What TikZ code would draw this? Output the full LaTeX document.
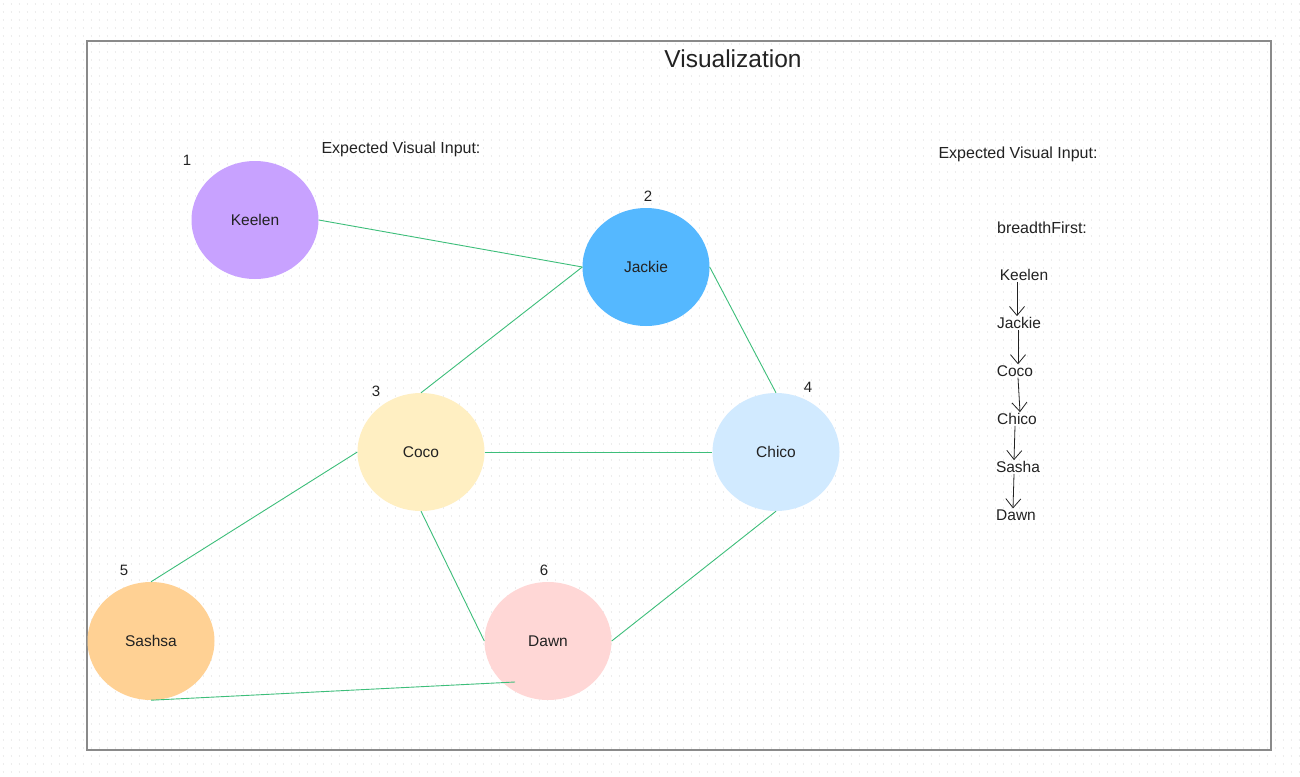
\documentclass[tikz,border=0pt]{standalone}
\usepackage{fontspec}
\setmainfont{Liberation Sans}
\usepackage{tikz}
\usetikzlibrary{arrows.meta,positioning,calc,shapes.geometric}

\definecolor{keelencol}{HTML}{C8A2FF}
\definecolor{jackiecol}{HTML}{55B8FF}
\definecolor{cococol}{HTML}{FFEFC2}
\definecolor{chicocol}{HTML}{D1EAFF}
\definecolor{sashsacol}{HTML}{FFD194}
\definecolor{dawncol}{HTML}{FFD7D6}
\definecolor{linkcol}{HTML}{3DBE7A}
\definecolor{framecol}{HTML}{8A8A8A}
\definecolor{dotcol}{HTML}{EDEDED}
\definecolor{inkcol}{HTML}{222222}

\begin{document}
\begin{tikzpicture}[x=1pt,y=-1pt,
    person/.style={ellipse,minimum width=127pt,minimum height=118pt,inner sep=0pt,
      text=inkcol,font=\fontsize{15.5}{18}\selectfont},
    link/.style={linkcol,line width=0.9pt},
    num/.style={text=inkcol,font=\fontsize{15}{18}\selectfont},
    lbl/.style={text=inkcol,font=\fontsize{16}{19}\selectfont},
    seq/.style={text=inkcol,font=\fontsize{15.5}{18}\selectfont,inner sep=1pt},
    stepline/.style={inkcol,line width=0.8pt,-{Straight Barb[length=9pt,width=15pt,line width=0.8pt]}}]
  \useasboundingbox (0,0) rectangle (1300,776);
  \fill[white] (0,0) rectangle (1300,776);
  % dotted canvas
  \foreach \y in {4,12,...,772} {
    \draw[dotcol,line width=1.3pt,dash pattern=on 1.3pt off 6.7pt] (2.7,\y) -- (1300,\y);
  }
  \draw[framecol,line width=1.3pt] (87,41) rectangle (1271,750);
  \node[text=inkcol,font=\fontsize{24.5}{28}\selectfont] (title) at (733,59) {Visualization};

  % graph
  \node[person,fill=keelencol] (keelen) at (255,220) {Keelen};
  \node[person,fill=jackiecol] (jackie) at (646,267) {Jackie};
  \node[person,fill=cococol] (coco) at (421,452) {Coco};
  \node[person,fill=chicocol] (chico) at (776,452) {Chico};
  \node[person,fill=sashsacol] (sashsa) at (151,641) {Sashsa};
  \node[person,fill=dawncol] (dawn) at (548,641) {Dawn};

  \node[num] (n1) at (187,160) {1};
  \node[num] (n2) at (648,196) {2};
  \node[num] (n3) at (376,391) {3};
  \node[num] (n4) at (808,387) {4};
  \node[num] (n5) at (124,570) {5};
  \node[num] (n6) at (544,570) {6};

  \draw[link] (keelen.east) -- (jackie.west);
  \draw[link] (jackie.west) -- (coco.north);
  \draw[link] (jackie.east) -- (chico.north);
  \draw[link] (coco.east) -- (chico.west);
  \draw[link] (coco.west) -- (sashsa.north);
  \draw[link] (coco.south) -- (dawn.west);
  \draw[link] (chico.south) -- (dawn.east);
  \draw[link] (sashsa.south) -- ($(dawn.center)+(-33,41)$);

  % expected output
  \node[lbl] (exp1) at (401,149) {Expected Visual Input:};
  \node[lbl] (exp2) at (1018,154) {Expected Visual Input:};
  \node[lbl] (bfs) at (1042,228) {breadthFirst:};

  \node[seq] (s1) at (1024,275) {Keelen};
  \node[seq] (s2) at (1019,323) {Jackie};
  \node[seq] (s3) at (1015,371) {Coco};
  \node[seq] (s4) at (1017,419) {Chico};
  \node[seq] (s5) at (1018,467) {Sasha};
  \node[seq] (s6) at (1016,515) {Dawn};

  \draw[stepline] ([xshift=-7pt]s1.south) -- ([xshift=-2pt]s2.north);
  \draw[stepline] ([xshift=-1pt]s2.south) -- ([xshift=3pt]s3.north);
  \draw[stepline] ([xshift=3pt]s3.south) -- ([xshift=3pt]s4.north);
  \draw[stepline] ([xshift=-2pt]s4.south) -- ([xshift=-4pt]s5.north);
  \draw[stepline] ([xshift=-4pt]s5.south) -- ([xshift=-3pt]s6.north);
\end{tikzpicture}
\end{document}
